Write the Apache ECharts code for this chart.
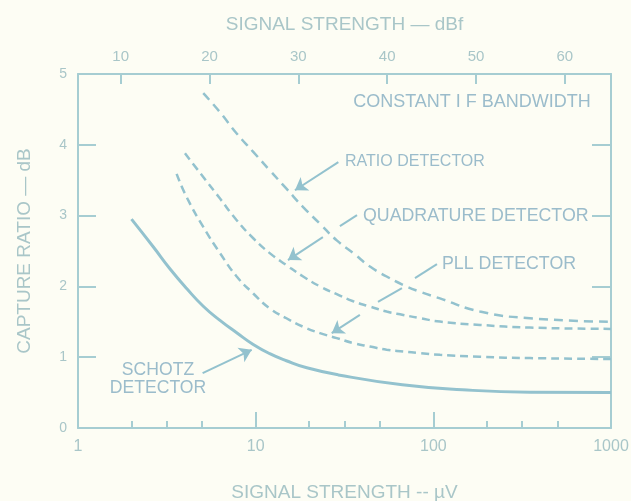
<!DOCTYPE html>
<html><head><meta charset="utf-8">
<script src="https://cdn.jsdelivr.net/npm/echarts@6/dist/echarts.min.js"></script>
<style>html,body{margin:0;padding:0;background:#fdfdf4}#c{width:631px;height:501px}</style>
</head><body><div id="c"></div>
<script>
// ---- data (signal strength µV vs capture ratio dB) ----
const schotzX = [2.0, 2.65, 3.29, 4.09, 5.07, 6.3, 7.82, 9.69, 12.0, 14.9, 19.4, 29.2, 66.9, 146, 350, 1000];
const schotzY = [2.95, 2.56, 2.25, 1.97, 1.72, 1.52, 1.345, 1.18, 1.05, 0.95, 0.85, 0.75, 0.61, 0.54, 0.505, 0.50];
const ratioX = [5.07, 6.3, 7.82, 9.69, 12.0, 14.9, 18.5, 23.0, 28.6, 35.4, 44.0, 54.6, 67.7, 84.1, 109, 183, 350, 1000];
const ratioY = [4.73, 4.46, 4.16, 3.90, 3.64, 3.38, 3.12, 2.885, 2.65, 2.47, 2.28, 2.14, 2.02, 1.925, 1.83, 1.645, 1.55, 1.50];
const quadX = [4.0, 5.07, 6.3, 7.82, 9.69, 12.0, 14.9, 18.5, 23.0, 28.6, 35.4, 44.0, 54.6, 67.7, 84.1, 109, 183, 350, 1000];
const quadY = [3.88, 3.545, 3.24, 2.935, 2.68, 2.47, 2.30, 2.14, 2.0, 1.89, 1.79, 1.715, 1.645, 1.597, 1.551, 1.503, 1.456, 1.418, 1.40];
const pllX = [3.59, 4.09, 5.07, 6.3, 7.82, 9.69, 12.0, 14.9, 18.5, 23.0, 28.6, 35.4, 44.0, 54.6, 67.7, 84.1, 109, 183, 350, 1000];
const pllY = [3.59, 3.26, 2.84, 2.47, 2.14, 1.90, 1.69, 1.55, 1.43, 1.34, 1.27, 1.20, 1.15, 1.105, 1.08, 1.058, 1.034, 1.006, 0.987, 0.975];

// axes
const uvMin = 1, uvMax = 1000;
const dBfOffset = 5.2; // dBf value at 1 µV
const dBfTicks = [10, 20, 30, 40, 50, 60];
const uvMinorTicks = [2, 3.16, 5, 20, 31.6, 50, 200, 316, 500];
const yTicksRight = [1, 2, 3, 4];

// annotation arrows: polylines split where they cross other curves, [x, y] in data units; last segment has arrowhead
const arrowRatio = [[[29.2, 3.756], [16.64, 3.358]]];
const arrowQuad = [[[37.2, 3.006], [29.8, 2.851]], [[23.9, 2.696], [15.2, 2.372]]];
const arrowPll = [[[104.8, 2.315], [78.8, 2.118]], [[66.6, 1.977], [48.8, 1.78]], [[38.6, 1.597], [26.8, 1.339]]];
const arrowSchotz = [[[5.03, 0.776], [9.5, 1.104]]];

const zip = (xs, ys) => xs.map((x, i) => [x, ys[i]]);

const FRAME = '#a6cdd2';
const CURVE = '#93c2ce';
const TEXT = '#9bbccb';
const LABEL = '#a9c6c8';
const FONT = 'Liberation Sans';

const chart = echarts.init(document.getElementById('c'), null, {renderer: 'canvas'});

function arrowLines(segs) {
  return segs.map((s, i) => [
    {coord: s[0], symbol: 'none'},
    {coord: s[1], symbol: i === segs.length - 1 ? 'arrow' : 'none'}
  ]);
}

const option = {
  backgroundColor: '#fdfdf4',
  animation: false,
  textStyle: {fontFamily: FONT},
  grid: {left: 78, right: 20, top: 74, bottom: 73, outerBoundsMode: 'none', containLabel: false},
  xAxis: [
    {
      type: 'log', logBase: 10, min: uvMin, max: uvMax, position: 'bottom',
      name: 'SIGNAL STRENGTH -- µV', nameLocation: 'middle', nameGap: 55,
      nameTextStyle: {color: LABEL, fontSize: 19, fontFamily: FONT},
      axisLine: {show: true, lineStyle: {color: FRAME, width: 2}},
      axisTick: {show: true, inside: true, length: 16, lineStyle: {color: FRAME, width: 2}},
      axisLabel: {color: LABEL, fontSize: 16, margin: 11, fontFamily: FONT, formatter: v => String(v)},
      splitLine: {show: false}, minorTick: {show: false}
    },
    {
      type: 'log', logBase: 10, min: uvMin, max: uvMax, position: 'bottom',
      axisLine: {show: false},
      axisTick: {show: true, inside: true, length: 7, customValues: uvMinorTicks, lineStyle: {color: FRAME, width: 2}},
      axisLabel: {show: false}, splitLine: {show: false}
    },
    {
      type: 'value', min: dBfOffset, max: dBfOffset + 60, position: 'top',
      name: 'SIGNAL STRENGTH — dBf', nameLocation: 'middle', nameGap: 40,
      nameTextStyle: {color: LABEL, fontSize: 19, fontFamily: FONT},
      axisLine: {show: true, lineStyle: {color: FRAME, width: 2}},
      axisTick: {show: true, inside: true, length: 10, customValues: dBfTicks, lineStyle: {color: FRAME, width: 2}},
      axisLabel: {color: LABEL, fontSize: 15, margin: 10, customValues: dBfTicks, fontFamily: FONT},
      splitLine: {show: false}
    }
  ],
  yAxis: [
    {
      type: 'value', min: 0, max: 5, interval: 1, position: 'left',
      name: 'CAPTURE RATIO — dB', nameLocation: 'middle', nameGap: 44,
      nameTextStyle: {color: LABEL, fontSize: 19, fontFamily: FONT},
      axisLine: {show: true, lineStyle: {color: FRAME, width: 2}},
      axisTick: {show: true, inside: true, length: 18, lineStyle: {color: FRAME, width: 2}},
      axisLabel: {color: LABEL, fontSize: 14, margin: 11, fontFamily: FONT},
      splitLine: {show: false}
    },
    {
      type: 'value', min: 0, max: 5, interval: 1, position: 'right',
      axisLine: {show: true, lineStyle: {color: FRAME, width: 2}},
      axisTick: {show: true, inside: true, length: 19, customValues: yTicksRight, lineStyle: {color: FRAME, width: 2}},
      axisLabel: {show: false}, splitLine: {show: false}
    }
  ],
  series: [
    {
      name: 'SCHOTZ DETECTOR', type: 'line', xAxisIndex: 0, yAxisIndex: 0,
      data: zip(schotzX, schotzY), smooth: 0.5, showSymbol: false, silent: true,
      lineStyle: {color: CURVE, width: 3},
      markLine: {
        silent: true, symbolSize: 12,
        label: {show: false},
        lineStyle: {color: CURVE, width: 2, type: 'solid'},
        data: [].concat(arrowLines(arrowRatio), arrowLines(arrowQuad), arrowLines(arrowPll), arrowLines(arrowSchotz))
      }
    },
    {
      name: 'RATIO DETECTOR', type: 'line', xAxisIndex: 0, yAxisIndex: 0,
      data: zip(ratioX, ratioY), smooth: 0.5, showSymbol: false, silent: true,
      lineStyle: {color: CURVE, width: 2.5, type: [9, 6]}
    },
    {
      name: 'QUADRATURE DETECTOR', type: 'line', xAxisIndex: 0, yAxisIndex: 0,
      data: zip(quadX, quadY), smooth: 0.5, showSymbol: false, silent: true,
      lineStyle: {color: CURVE, width: 2.5, type: [8, 5]}
    },
    {
      name: 'PLL DETECTOR', type: 'line', xAxisIndex: 0, yAxisIndex: 0,
      data: zip(pllX, pllY), smooth: 0.5, showSymbol: false, silent: true,
      lineStyle: {color: CURVE, width: 2.5, type: [8, 5]}
    }
  ],
  graphic: [
    {type: 'text', x: 472, y: 102, style: {text: 'CONSTANT I F BANDWIDTH', fontSize: 18, fontFamily: FONT, fill: TEXT, align: 'center', verticalAlign: 'middle'}},
    {type: 'text', x: 345, y: 162, style: {text: 'RATIO DETECTOR', fontSize: 16, fontFamily: FONT, fill: TEXT, align: 'left', verticalAlign: 'middle'}},
    {type: 'text', x: 363, y: 216, style: {text: 'QUADRATURE DETECTOR', fontSize: 17.8, fontFamily: FONT, fill: TEXT, align: 'left', verticalAlign: 'middle'}},
    {type: 'text', x: 442, y: 264, style: {text: 'PLL DETECTOR', fontSize: 17.8, fontFamily: FONT, fill: TEXT, align: 'left', verticalAlign: 'middle'}},
    {type: 'text', x: 158, y: 370, style: {text: 'SCHOTZ', fontSize: 17.6, fontFamily: FONT, fill: TEXT, align: 'center', verticalAlign: 'middle'}},
    {type: 'text', x: 158, y: 388, style: {text: 'DETECTOR', fontSize: 17.6, fontFamily: FONT, fill: TEXT, align: 'center', verticalAlign: 'middle'}}
  ]
};
chart.setOption(option);
</script>
</body></html>
